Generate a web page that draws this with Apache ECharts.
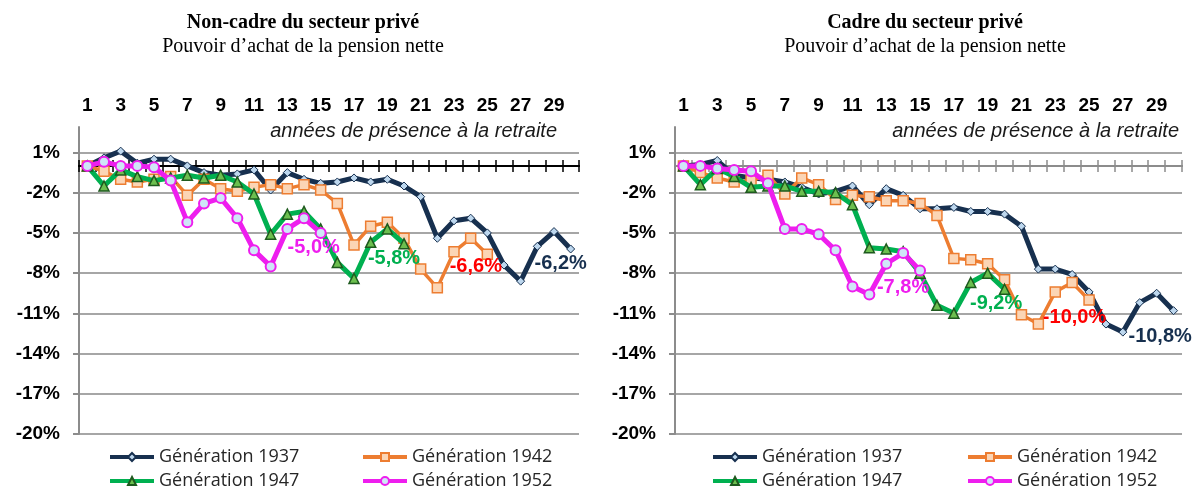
<!DOCTYPE html>
<html>
<head>
<meta charset="utf-8">
<script src="https://cdn.jsdelivr.net/npm/echarts@6/dist/echarts.min.js"></script>
<style>
  html, body { margin: 0; padding: 0; background: #fff; }
  #chart { width: 1197px; height: 492px; }
</style>
</head>
<body>
<div id="chart"></div>
<script>
// Years spent in retirement (category axis)
const years = ['1','2','3','4','5','6','7','8','9','10','11','12','13','14','15',
               '16','17','18','19','20','21','22','23','24','25','26','27','28','29','30'];

// Value-axis ticks (%)
const yTicks = [-20, -17, -14, -11, -8, -5, -2, 1];

// Non-cadre du secteur privé — net pension purchasing power, % change
const nonCadre1937 = [0, 0.6, 1.1, 0.2, 0.5, 0.5, 0.0, -0.5, -0.7, -0.6, -0.3, -1.8, -0.5, -1.0, -1.3,
                      -1.2, -0.9, -1.2, -1.0, -1.5, -2.3, -5.4, -4.1, -3.9, -5.0, -7.4, -8.6, -6.0, -4.9, -6.2];
const nonCadre1942 = [0, -0.4, -1.0, -1.2, -1.0, -0.8, -2.2, -1.0, -1.7, -1.9, -1.6, -1.4, -1.7, -1.4, -1.8,
                      -2.8, -5.9, -4.5, -4.2, -5.4, -7.7, -9.1, -6.4, -5.4, -6.6];
const nonCadre1947 = [0, -1.5, -0.3, -0.8, -1.1, -0.9, -0.7, -0.9, -0.7, -1.2, -2.1, -5.1, -3.6, -3.4, -4.7,
                      -7.2, -8.4, -5.7, -4.7, -5.8];
const nonCadre1952 = [0, 0.3, 0.0, 0.0, -0.1, -1.1, -4.2, -2.8, -2.4, -3.9, -6.3, -7.5, -4.7, -3.9, -5.0];

// Cadre du secteur privé — net pension purchasing power, % change
const cadre1937 = [0, 0.1, 0.4, -0.7, -0.9, -1.0, -1.2, -1.6, -2.1, -1.9, -1.5, -2.9, -1.7, -2.2, -3.2,
                   -3.2, -3.1, -3.4, -3.4, -3.6, -4.5, -7.7, -7.7, -8.1, -9.4, -11.8, -12.4, -10.2, -9.5, -10.8];
const cadre1942 = [0, -0.5, -0.9, -1.2, -1.1, -0.7, -2.1, -0.9, -1.4, -2.5, -2.2, -2.3, -2.6, -2.6, -2.8,
                   -3.7, -6.9, -7.0, -7.3, -8.5, -11.1, -11.8, -9.4, -8.7, -10.0];
const cadre1947 = [0, -1.4, -0.2, -0.8, -1.6, -1.5, -1.5, -1.9, -1.9, -2.0, -2.9, -6.1, -6.2, -6.4, -8.0,
                   -10.4, -11.0, -8.7, -8.0, -9.2];
const cadre1952 = [0, 0.0, -0.2, -0.3, -0.4, -1.3, -4.7, -4.7, -5.1, -6.3, -9.0, -9.6, -7.3, -6.5, -7.8];

const NAMES = ['Génération 1937', 'Génération 1942', 'Génération 1947', 'Génération 1952'];

// Visual style for each generation
const STYLES = [
  { line: '#17304f', width: 5,   symbol: 'diamond',  size: 8,  fill: '#bdd7ee', border: '#17304f', bw: 1,   label: '#17304f' },
  { line: '#ed7d31', width: 3.5, symbol: 'rect',     size: 10, fill: '#fbd5b5', border: '#ed7d31', bw: 1.5, label: '#ff0000' },
  { line: '#00b050', width: 5,   symbol: 'triangle', size: 10, fill: '#6cbf4f', border: '#1e5a1e', bw: 1.5, label: '#00b050' },
  { line: '#ee1eee', width: 5,   symbol: 'circle',   size: 10, fill: '#cfe6f7', border: '#ee1eee', bw: 2,   label: '#ee1eee' }
];

// Offset of the end-value label relative to the last point, per panel
const END_LABEL_OFFSETS = [
  [[-10, 14.5], [-11.5, 12.6], [-10, 15], [-7, 14.5]],
  [[-13.4, 25.7], [-14.5, 18], [-8.4, 14], [-17, 17]]
];

const PANELS = [
  { data: [nonCadre1937, nonCadre1942, nonCadre1947, nonCadre1952], left: 79, right: 618, zeroColor: '#000000' },
  { data: [cadre1937, cadre1942, cadre1947, cadre1952], left: 675, right: 15, zeroColor: '#8c8c8c' }
];

const FONT = 'Liberation Sans, Arial, sans-serif';
const fmtPct = v => v.toFixed(1).replace('.', ',') + '%';

const grid = [], xAxis = [], yAxis = [], series = [];

PANELS.forEach((p, gi) => {
  grid.push({ left: p.left, right: p.right, top: 127, bottom: 58, containLabel: false });

  // Category labels across the top of the plot
  xAxis.push({
    type: 'category', gridIndex: gi, data: years, position: 'top',
    axisLine: { show: false, onZero: false }, axisTick: { show: false },
    axisLabel: { interval: 1, margin: 12, fontFamily: FONT, fontSize: 19, fontWeight: 'bold', color: '#000' },
    splitLine: { show: false }
  });
  // Zero line with ticks pointing down
  xAxis.push({
    type: 'category', gridIndex: gi, data: years, position: 'bottom',
    axisLine: { show: true, onZero: true, onZeroAxisIndex: gi, lineStyle: { color: p.zeroColor, width: 2 } },
    axisTick: { show: true, interval: 0, length: 6, lineStyle: { color: p.zeroColor, width: 1.5 } },
    axisLabel: { show: false }, splitLine: { show: false }
  });
  // Zero line with ticks pointing up
  xAxis.push({
    type: 'category', gridIndex: gi, data: years, position: 'top',
    axisLine: { show: true, onZero: true, onZeroAxisIndex: gi, lineStyle: { color: p.zeroColor, width: 2 } },
    axisTick: { show: true, interval: 0, length: 6, lineStyle: { color: p.zeroColor, width: 1.5 } },
    axisLabel: { show: false }, splitLine: { show: false }
  });

  yAxis.push({
    type: 'value', gridIndex: gi, min: -20, max: 2.9,
    axisLine: { show: true, lineStyle: { color: '#8c8c8c', width: 2 } },
    axisTick: { show: true, length: 6, customValues: yTicks, lineStyle: { color: '#8c8c8c', width: 2 } },
    axisLabel: { customValues: yTicks, margin: 19, formatter: v => v + '%',
                 fontFamily: FONT, fontSize: 19, fontWeight: 'bold', color: '#000' },
    splitLine: { show: true, lineStyle: { color: '#a6a6a6', width: 2 } }
  });

  p.data.forEach((values, si) => {
    const st = STYLES[si];
    const last = values.length - 1;
    const data = values.map((v, i) => i !== last ? v : {
      value: v,
      label: {
        show: true, position: 'inside', offset: END_LABEL_OFFSETS[gi][si],
        formatter: q => fmtPct(q.value),
        fontFamily: FONT, fontSize: 20, fontWeight: 'bold', color: st.label
      }
    });
    series.push({
      name: NAMES[si], type: 'line', xAxisIndex: gi * 3, yAxisIndex: gi, data,
      symbol: st.symbol, symbolSize: st.size, showAllSymbol: true,
      lineStyle: { color: st.line, width: st.width },
      itemStyle: { color: st.fill, borderColor: st.border, borderWidth: st.bw },
      emphasis: { disabled: true }, z: 2 + si
    });
  });
});

const legendCommon = {
  orient: 'vertical', top: 448, padding: 0, itemGap: 6, itemWidth: 44, itemHeight: 10,
  selectedMode: false, lineStyle: { width: 4 },
  textStyle: { fontFamily: 'Open Sans, sans-serif', fontSize: 18, color: '#262626' }
};
const legend = [
  Object.assign({ left: 108, data: [NAMES[0], NAMES[2]] }, legendCommon),
  Object.assign({ left: 361, data: [NAMES[1], NAMES[3]] }, legendCommon),
  Object.assign({ left: 711, data: [NAMES[0], NAMES[2]] }, legendCommon),
  Object.assign({ left: 966, data: [NAMES[1], NAMES[3]] }, legendCommon)
];

const SERIF = 'Liberation Serif, Times New Roman, serif';
const txt = (x, y, text, extra) => ({
  type: 'text', x, y, silent: true,
  style: Object.assign({ text, fill: '#000', verticalAlign: 'middle' }, extra)
});
const graphic = [
  txt(303, 23, 'Non-cadre du secteur privé', { align: 'center', fontFamily: SERIF, fontSize: 20, fontWeight: 'bold' }),
  txt(303, 47, 'Pouvoir d’achat de la pension nette', { align: 'center', fontFamily: SERIF, fontSize: 20 }),
  txt(925, 23, 'Cadre du secteur privé', { align: 'center', fontFamily: SERIF, fontSize: 20, fontWeight: 'bold' }),
  txt(925, 47, 'Pouvoir d’achat de la pension nette', { align: 'center', fontFamily: SERIF, fontSize: 20 }),
  txt(557, 131, 'années de présence à la retraite', { align: 'right', fontFamily: FONT, fontSize: 20, fontStyle: 'italic', fill: '#1a1a1a' }),
  txt(1179, 131, 'années de présence à la retraite', { align: 'right', fontFamily: FONT, fontSize: 20, fontStyle: 'italic', fill: '#1a1a1a' })
];

const chart = echarts.init(document.getElementById('chart'), null, { renderer: 'canvas' });
chart.setOption({
  animation: false,
  backgroundColor: '#ffffff',
  grid, xAxis, yAxis, series, legend, graphic
});
</script>
</body>
</html>
